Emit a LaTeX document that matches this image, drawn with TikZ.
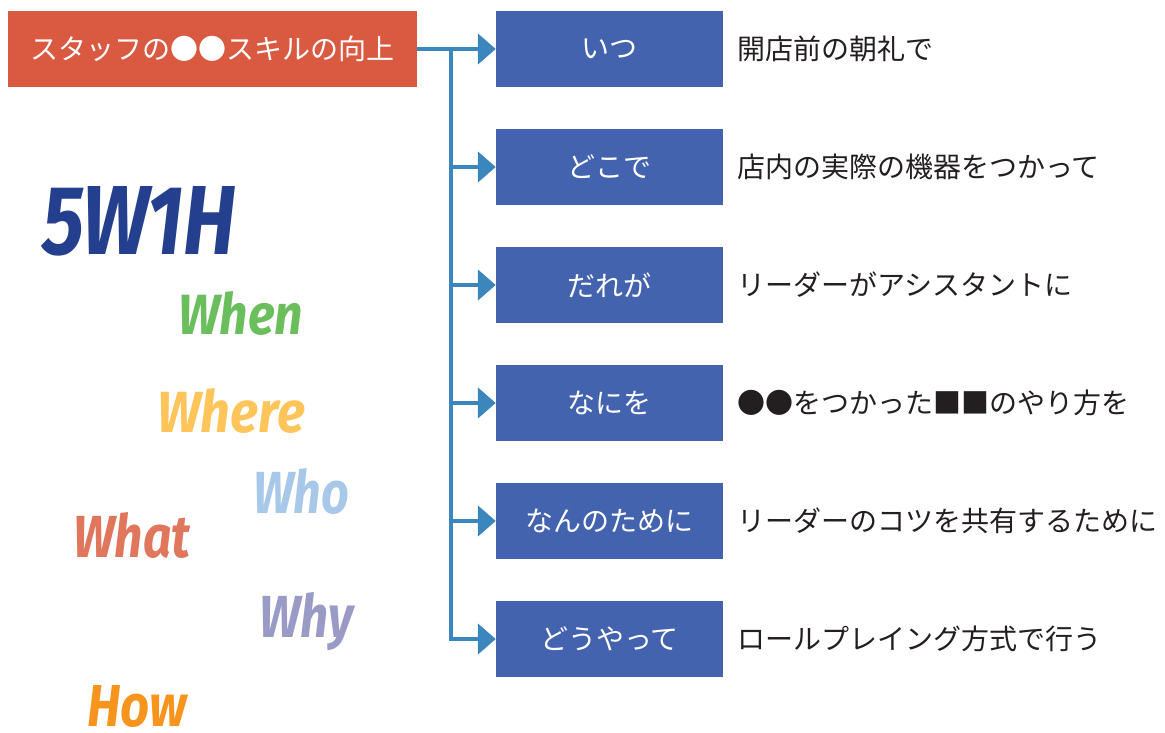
\documentclass[tikz,border=0pt]{standalone}
\usepackage{fontspec}
\usepackage{graphicx}
\usetikzlibrary{arrows.meta}
\newfontfamily\jp{Noto Sans CJK JP}
\newfontfamily\wf{Fira Sans}
\definecolor{redbg}{HTML}{D95941}
\definecolor{bluebg}{HTML}{4463AE}
\definecolor{linec}{HTML}{3A86BD}
\definecolor{txt}{HTML}{231F20}
\definecolor{c5w}{HTML}{253F8F}
\definecolor{cwhen}{HTML}{6BBE5C}
\definecolor{cwhere}{HTML}{FFC55A}
\definecolor{cwho}{HTML}{A7C8E8}
\definecolor{cwhat}{HTML}{E0765B}
\definecolor{cwhy}{HTML}{9A9AC6}
\definecolor{chow}{HTML}{F7941E}
\tikzset{
  redbox/.style={fill=redbg, text=white, minimum width=409pt, minimum height=76pt, inner sep=0pt, font=\jp\fontsize{28}{31}\selectfont},
  bluebox/.style={fill=bluebg, text=white, minimum width=227pt, minimum height=76pt, inner sep=0pt, font=\jp\fontsize{28}{31}\selectfont},
  desc/.style={anchor=west, inner sep=0pt, text=txt, font=\jp\fontsize{28}{31}\selectfont},
  word/.style={anchor=base west, inner sep=0pt},
  conn/.style={draw=linec, line width=4.5pt, -{Triangle[length=18pt,width=30pt]}},
  vline/.style={draw=linec, line width=4.5pt}
}
\begin{document}
\begin{tikzpicture}[x=1pt,y=-1pt]
\useasboundingbox (0,0) rectangle (1165,733);
\node[redbox] (top) at (212.5,49) {スタッフの●●スキルの向上};
\node[bluebox] (b1) at (609.5,49) {いつ};
\node[bluebox] (b2) at (609.5,167) {どこで};
\node[bluebox] (b3) at (609.5,285) {だれが};
\node[bluebox] (b4) at (609.5,403) {なにを};
\node[bluebox] (b5) at (609.5,521) {なんのために};
\node[bluebox] (b6) at (609.5,639) {どうやって};
\node[desc] (d1) at (737,49) {開店前の朝礼で};
\node[desc] (d2) at (737,167) {店内の実際の機器をつかって};
\node[desc] (d3) at (737,285) {リーダーがアシスタントに};
\node[desc] (d4) at (737,403) {●●をつかった■■のやり方を};
\node[desc] (d5) at (737,521) {リーダーのコツを共有するために};
\node[desc] (d6) at (737,639) {ロールプレイング方式で行う};
\coordinate (vx) at (451,0);
\draw[conn] (top.east) -- (b1.west);
\draw[vline] (vx |- b1.west) -- (vx |- b5.west);
\draw[conn] (vx |- b2.west) -- (b2.west);
\draw[conn] (vx |- b3.west) -- (b3.west);
\draw[conn] (vx |- b4.west) -- (b4.west);
\draw[conn] (vx |- b5.west) -- (b5.west);
\draw[conn] (vx |- b5.west) -- (vx |- b6.west) -- (b6.west);
\node[word, text=c5w] (w0) at (42,254) {\resizebox{194pt}{68pt}{\wf\bfseries\itshape 5W1H}};
\node[word, text=cwhen] (w1) at (178,334) {\resizebox{125pt}{43pt}{\wf\bfseries\itshape When}};
\node[word, text=cwhere] (w2) at (157,432) {\resizebox{148pt}{44pt}{\wf\bfseries\itshape Where}};
\node[word, text=cwho] (w3) at (253,513) {\resizebox{96pt}{45pt}{\wf\bfseries\itshape Who}};
\node[word, text=cwhat] (w4) at (73,557) {\resizebox{117pt}{45pt}{\wf\bfseries\itshape What}};
\node[word, text=cwhy] (w5) at (259,637) {\resizebox{94pt}{45pt}{\wf\bfseries\itshape Why}};
\node[word, text=chow] (w6) at (87,726) {\resizebox{100pt}{41pt}{\wf\bfseries\itshape How}};
\end{tikzpicture}
\end{document}
